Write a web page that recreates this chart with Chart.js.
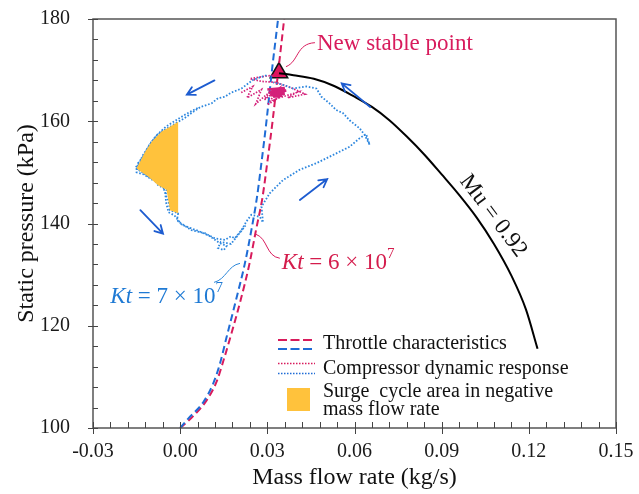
<!DOCTYPE html>
<html>
<head>
<meta charset="utf-8">
<script src="https://cdn.jsdelivr.net/npm/chart.js@4.4.1/dist/chart.umd.min.js"></script>
<style>
html,body{margin:0;padding:0;background:#fff;}
#wrap{width:639px;height:494px;}
</style>
</head>
<body>
<div id="wrap"><canvas id="c" width="639" height="494"></canvas></div>
<script>
// compressor characteristic, Mu = 0.92
var muFlow =[0.034,0.039,0.046,0.053,0.060,0.066,0.072,0.078,0.084,0.090,0.096,0.102,0.108,0.114,0.119,0.123];
var muPress=[169.4,169.0,168.3,166.9,164.8,162.8,160.2,157.0,153.5,149.6,145.6,141.2,136.0,129.8,123.2,115.5];
// throttle lines
var kt6Flow =[0.000,0.0039,0.0091,0.0125,0.0148,0.0177,0.0208,0.0238,0.0262,0.0283,0.0300,0.0318,0.0338,0.0358];
var kt6Press=[100.0,102.0,105.4,109.0,113.0,118.6,125.0,132.0,139.0,145.0,152.0,160.0,170.0,180.0];
var kt7Flow =[0.000,0.0027,0.0079,0.0113,0.0136,0.0159,0.0192,0.0222,0.0246,0.0264,0.0280,0.0297,0.0316,0.0337];
var kt7Press=[100.0,101.8,105.0,108.6,112.4,117.6,125.0,132.0,139.0,145.0,152.0,160.0,170.0,180.0];
// surge cycle, first pass
var surgeFlow =[0.0297,0.0251,0.0211,0.0175,0.0154,0.0130,0.0108,0.0070,0.0039,0.0015,-0.0007,-0.0035,-0.0064,-0.0085,-0.0098,-0.0121,-0.0130,-0.0138,-0.0155,-0.0144,-0.0130,-0.0110,-0.0090,-0.0076,-0.0047,-0.0050,-0.0041,-0.0035,-0.0007,-0.0010,-0.0007,0.0039,0.0085,0.0119,0.0154,0.0175,0.0188,0.0211,0.0228,0.0245,0.0274,0.0285,0.0280,0.0308,0.0354,0.0411,0.0469,0.0526,0.0583,0.0618,0.0640,0.0652,0.0635,0.0618,0.0583,0.0560,0.0537,0.0514,0.0486,0.0469,0.0434,0.0388,0.0350,0.0320];
var surgePress=[169.0,168.1,166.4,165.6,164.8,164.5,163.5,162.8,161.6,160.6,159.9,158.9,158.0,157.0,156.0,154.0,153.2,152.1,150.8,150.5,150.0,149.2,148.6,147.5,146.6,145.5,144.6,142.6,142.0,141.0,140.4,138.7,138.1,137.1,136.8,137.5,137.1,138.7,140.4,141.7,141.3,140.2,143.3,145.9,148.5,150.5,151.8,153.4,155.0,156.7,157.5,155.4,157.3,158.6,160.2,161.6,162.2,163.5,164.8,166.4,166.8,166.4,167.2,167.6];
// surge cycle, second pass on the reversed-flow side
var surge2Flow =[0.0060,0.0020,-0.0020,-0.0050,-0.0080,-0.0105,-0.0125,-0.0145,-0.0150,-0.0125,-0.0095,-0.0065,-0.0052,-0.0048,-0.0040,-0.0020,0.0005,0.0030,0.0060,0.0100,0.0135,0.0160,0.0150,0.0130,0.0140,0.0175,0.0200,0.0225];
var surge2Press=[162.6,161.4,160.0,158.9,157.3,155.5,153.3,151.8,150.0,149.6,148.5,147.8,146.2,144.0,142.2,141.6,139.8,139.2,138.6,137.6,136.2,135.6,134.8,135.2,136.4,136.0,137.8,139.6];
// settling around the new operating point
var settleFlow =[0.0210,0.0250,0.0230,0.0280,0.0260,0.0310,0.0290,0.0340,0.0300,0.0360,0.0330,0.0400,0.0370,0.0430,0.0380,0.0330,0.0280,0.0240,0.0290,0.0320];
var settlePress=[165.6,166.8,164.6,166.2,163.4,165.8,164.2,166.4,163.2,165.4,164.4,165.6,164.6,165.3,166.6,167.6,167.8,168.3,168.8,169.0];
var coreFlow =[0.0300,0.0360,0.0305,0.0365,0.0310,0.0360,0.0320,0.0350];
var corePress=[166.2,166.5,165.6,166.0,165.1,165.4,164.8,165.0];
// area of the cycle with negative mass flow
var negFlow =[-0.0007,-0.0035,-0.0064,-0.0098,-0.0121,-0.0138,-0.0150,-0.0140,-0.0110,-0.0076,-0.0047,-0.0041,-0.0035,-0.0007];
var negPress=[159.9,158.9,158.0,156.0,154.0,152.1,150.8,150.3,149.2,147.5,146.6,144.6,142.6,142.0];
// new stable point
var stableFlow=[0.034], stablePress=[169.5];
// direction arrows along the cycle
var arrowX0=[0.0118,-0.0137,0.0412,0.0654], arrowY0=[168.0,142.6,144.6,162.8];
var arrowX1=[0.0023,-0.0059,0.0506,0.0556], arrowY1=[165.2,138.0,148.7,167.4];

var RED='#d81b5c', BLUE='#1f6cd6', DOT='#2c86de', MAG='#d4207a';
var SERIF='"Liberation Serif", "DejaVu Serif", serif';

function pts(xs,ys){
  var out=[];
  for(var i=0;i<xs.length;i++) out.push({x:xs[i],y:ys[i]});
  return out;
}

function drawParts(ctx,x,y,parts,color,align){
  var w=0,i;
  for(i=0;i<parts.length;i++){ctx.font=parts[i][1];w+=ctx.measureText(parts[i][0]).width;}
  if(align==='right') x-=w;
  ctx.fillStyle=color;ctx.textBaseline='middle';ctx.textAlign='left';
  for(i=0;i<parts.length;i++){
    ctx.font=parts[i][1];
    ctx.fillText(parts[i][0],x,y+(parts[i][2]||0));
    x+=ctx.measureText(parts[i][0]).width;
  }
}

function arrow(ctx,x0,y0,x1,y1){
  var a=Math.atan2(y1-y0,x1-x0),h=9;
  ctx.beginPath();
  ctx.moveTo(x0,y0);ctx.lineTo(x1,y1);
  ctx.moveTo(x1-h*Math.cos(a-0.5),y1-h*Math.sin(a-0.5));
  ctx.lineTo(x1,y1);
  ctx.lineTo(x1-h*Math.cos(a+0.5),y1-h*Math.sin(a+0.5));
  ctx.stroke();
}

var overlay={
  id:'overlay',
  afterDatasetsDraw:function(chart){
    var ctx=chart.ctx,xs=chart.scales.x,ys=chart.scales.y,a=chart.chartArea;
    function px(v){return xs.getPixelForValue(v);}
    function py(v){return ys.getPixelForValue(v);}
    ctx.save();
    // frame
    ctx.strokeStyle='#555';ctx.lineWidth=1.5;ctx.setLineDash([]);
    ctx.strokeRect(a.left,a.top,a.right-a.left,a.bottom-a.top);
    // ticks
    ctx.lineWidth=1;ctx.strokeStyle='#444';
    var v,p;
    for(v=100;v<=180.001;v+=4){
      p=Math.round(py(v))+0.5;
      var major=Math.abs((v-100)%20)<0.01;
      ctx.beginPath();ctx.moveTo(a.left-(major?5:0),p);ctx.lineTo(a.left+5,p);ctx.stroke();
    }
    for(var k=0;k<=30;k++){
      v=-0.03+k*0.006;
      p=Math.round(px(v))+0.5;
      ctx.beginPath();ctx.moveTo(p,a.bottom+(k%5===0?6:0));ctx.lineTo(p,a.bottom-6);ctx.stroke();
    }
    // arrows
    ctx.strokeStyle='#1d5cd0';ctx.lineWidth=1.8;ctx.lineCap='round';
    for(var i=0;i<arrowX0.length;i++) arrow(ctx,px(arrowX0[i]),py(arrowY0[i]),px(arrowX1[i]),py(arrowY1[i]));
    ctx.lineCap='butt';
    // new stable point label
    var sx=px(stableFlow[0]),sy=py(stablePress[0]);
    ctx.strokeStyle=RED;ctx.lineWidth=1;
    ctx.beginPath();ctx.moveTo(sx+7,sy-6);ctx.bezierCurveTo(sx+20,sy-11,sx+17,sy-29,sx+36,sy-30);ctx.stroke();
    drawParts(ctx,sx+38,sy-29,[['New stable point','23px '+SERIF]],RED);
    // Kt labels
    var r0x=px(0.0257),r0y=py(137.7);
    ctx.strokeStyle=RED;
    ctx.beginPath();ctx.moveTo(r0x+1,r0y-1);ctx.bezierCurveTo(r0x+13,r0y+3,r0x+11,r0y+21,r0x+25,r0y+23);ctx.stroke();
    drawParts(ctx,r0x+27,r0y+28,[['Kt','italic 23px '+SERIF],[' = 6 \u00d7 10','23px '+SERIF],['7','15px '+SERIF,-9]],'#d41c4c');
    var b0x=px(0.0206),b0y=py(132.2);
    ctx.strokeStyle='#2b86d8';
    ctx.beginPath();ctx.moveTo(b0x,b0y);ctx.bezierCurveTo(b0x-12,b0y+2,b0x-14,b0y+16,b0x-26,b0y+19);ctx.stroke();
    drawParts(ctx,b0x-17,b0y+34,[['Kt','italic 23px '+SERIF],[' = 7 \u00d7 10','23px '+SERIF],['7','15px '+SERIF,-9]],'#1f7ad4','right');
    // Mu label
    ctx.save();
    ctx.translate(px(0.1019)+17,py(141.3)-1);
    ctx.rotate(53*Math.PI/180);
    ctx.font='23px '+SERIF;ctx.fillStyle='#111';ctx.textAlign='center';ctx.textBaseline='middle';
    ctx.fillText('Mu = 0.92',0,0);
    ctx.restore();
    // legend
    var lx=278,tx=323;
    ctx.lineWidth=1.8;
    ctx.setLineDash([9,3.5]);
    ctx.strokeStyle=RED;ctx.beginPath();ctx.moveTo(lx,340);ctx.lineTo(lx+35,340);ctx.stroke();
    ctx.strokeStyle=BLUE;ctx.beginPath();ctx.moveTo(lx,349);ctx.lineTo(lx+35,349);ctx.stroke();
    ctx.setLineDash([1.5,1.5]);ctx.lineWidth=1.5;
    ctx.strokeStyle=RED;ctx.beginPath();ctx.moveTo(lx,363.5);ctx.lineTo(lx+37,363.5);ctx.stroke();
    ctx.strokeStyle=BLUE;ctx.beginPath();ctx.moveTo(lx,373.5);ctx.lineTo(lx+37,373.5);ctx.stroke();
    ctx.setLineDash([]);
    ctx.fillStyle='#ffc23c';ctx.fillRect(287,388,23,23);
    var lf='20px '+SERIF;
    drawParts(ctx,tx,344,[['Throttle characteristics',lf]],'#111');
    drawParts(ctx,tx,369,[['Compressor dynamic response',lf]],'#111');
    drawParts(ctx,tx,392,[['Surge  cycle area in negative',lf]],'#111');
    drawParts(ctx,tx,410,[['mass flow rate',lf]],'#111');
    ctx.restore();
  }
};

new Chart(document.getElementById('c'),{
  type:'scatter',
  data:{datasets:[
    {label:'neg',data:pts(negFlow,negPress),showLine:true,fill:'shape',backgroundColor:'#ffc23c',borderWidth:0,pointRadius:0},
    {label:'surge2',data:pts(surge2Flow,surge2Press),showLine:true,borderColor:DOT,borderWidth:1.8,borderDash:[1.6,1.8],pointRadius:0,tension:0},
    {label:'surge',data:pts(surgeFlow,surgePress),showLine:true,borderColor:DOT,borderWidth:1.8,borderDash:[1.6,1.8],pointRadius:0,tension:0},
    {label:'settle',data:pts(settleFlow,settlePress),showLine:true,borderColor:MAG,borderWidth:1.7,borderDash:[1.5,1.5],pointRadius:0},
    {label:'core',data:pts(coreFlow,corePress),showLine:true,borderColor:MAG,borderWidth:2.5,pointRadius:0},
    {label:'kt7',data:pts(kt7Flow,kt7Press),showLine:true,borderColor:BLUE,borderWidth:2,borderDash:[7,4],pointRadius:0,cubicInterpolationMode:'monotone'},
    {label:'kt6',data:pts(kt6Flow,kt6Press),showLine:true,borderColor:RED,borderWidth:2,borderDash:[7,4],pointRadius:0,cubicInterpolationMode:'monotone'},
    {label:'mu',data:pts(muFlow,muPress),showLine:true,borderColor:'#000',borderWidth:2,pointRadius:0,cubicInterpolationMode:'monotone'},
    {label:'stable',data:pts(stableFlow,stablePress),pointStyle:'triangle',pointRadius:10,backgroundColor:'#e0135e',borderColor:'#111',borderWidth:1.6}
  ]},
  options:{
    responsive:false,animation:false,devicePixelRatio:1,
    layout:{padding:{top:19,right:23,left:0,bottom:0}},
    plugins:{legend:{display:false},tooltip:{enabled:false}},
    scales:{
      x:{type:'linear',min:-0.03,max:0.15,
        grid:{display:false,drawTicks:false},border:{display:false},
        ticks:{stepSize:0.03,padding:12,color:'#1a1a1a',font:{family:SERIF,size:20},
          callback:function(v){return Math.abs(v)<1e-9?'0.00':v.toFixed(2);}},
        title:{display:true,text:'Mass flow rate (kg/s)',color:'#111',font:{family:SERIF,size:24},padding:{top:0,bottom:2}},
        afterFit:function(s){s.height=66;s.paddingLeft=0;s.paddingRight=0;}},
      y:{type:'linear',min:100,max:180,
        grid:{display:false,drawTicks:false},border:{display:false},
        ticks:{stepSize:20,padding:23,color:'#1a1a1a',font:{family:SERIF,size:20}},
        title:{display:true,text:'Static pressure (kPa)',color:'#111',font:{family:SERIF,size:24},padding:{top:12,bottom:0}},
        afterFit:function(s){s.width=93;s.paddingTop=0;s.paddingBottom=0;}}
    }
  },
  plugins:[overlay]
});
</script>
</body>
</html>
